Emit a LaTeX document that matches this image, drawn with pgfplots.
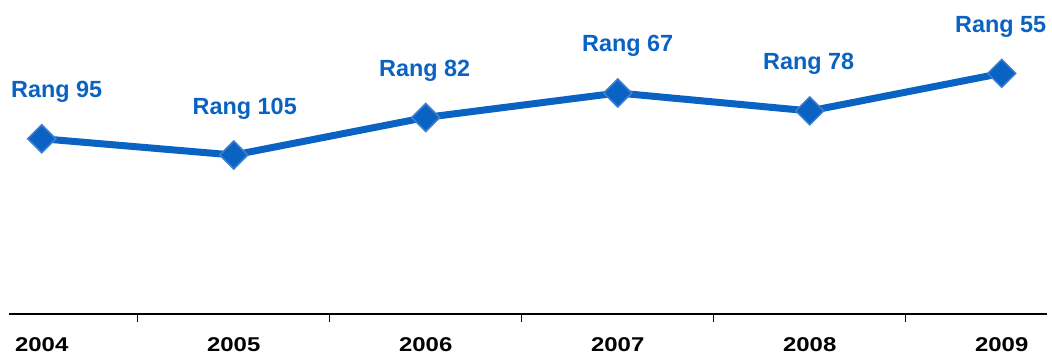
\documentclass[border=0pt]{standalone}
\usepackage{fontspec}
\setmainfont{Liberation Sans}
\newfontfamily\yearfont[FakeStretch=1.2]{Liberation Sans}
\usepackage{pgfplots}
\usepackage{pgfplotstable}
\pgfplotsset{compat=1.18}
\definecolor{rangblue}{HTML}{0A62C2}
\definecolor{rangedge}{HTML}{3F7FD0}
\pgfplotstableread{
x y dx label
0 95 15 {Rang 95}
1 105 11 {Rang 105}
2 82 -1 {Rang 82}
3 67 10 {Rang 67}
4 78 -1 {Rang 78}
5 55 -1 {Rang 55}
}\rangtable
\begin{document}
\begin{tikzpicture}
\useasboundingbox (-9.3bp,-41bp) rectangle (1042.7bp,314bp);
\begin{axis}[
  at={(0,0)}, anchor=south west,
  scale only axis,
  width=1037.4bp, height=314bp,
  xmin=-0.169, xmax=5.234,
  ymin=10.1, ymax=202.3,
  y dir=reverse,
  axis x line=bottom,
  axis y line=none,
  x axis line style={-, line width=2bp, black},
  xtick={0,1,2,3,4,5},
  xticklabels={2004,2005,2006,2007,2008,2009},
  major tick length=0pt,
  minor xtick={0.5,1.5,2.5,3.5,4.5},
  minor tick length=8bp,
  tick align=outside,
  minor tick style={line width=1.3bp, black},
  xticklabel style={anchor=base, yshift=-37.7bp, font=\yearfont\bfseries\fontsize{20}{24}\selectfont, text=black},
  clip=false,
]
\addplot[
  color=rangblue, line width=7bp,
  mark=square*, mark size=9.9bp,
  mark options={rotate=45, fill=rangblue, draw=rangedge, line width=1.5bp},
  visualization depends on={\thisrow{dx} \as \dx},
  point meta=explicit symbolic,
  nodes near coords,
  every node near coord/.append style={anchor=base, yshift=41bp, xshift=\dx bp,
     font=\bfseries\fontsize{23.5}{28}\selectfont, text=rangblue, inner sep=0pt},
] table[x=x, y=y, meta=label] {\rangtable};
\end{axis}
\end{tikzpicture}
\end{document}
